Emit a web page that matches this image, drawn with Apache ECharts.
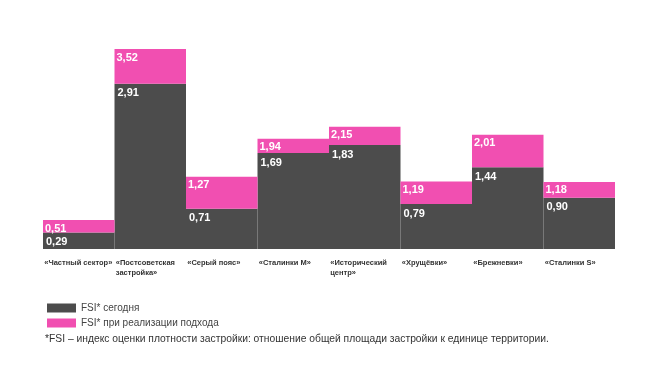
<!DOCTYPE html>
<html><head><meta charset="utf-8">
<script src="https://cdn.jsdelivr.net/npm/echarts@6/dist/echarts.min.js"></script>
<style>html,body{margin:0;padding:0;background:#fff}#c{width:650px;height:371px}</style>
</head><body><div id="c"></div>
<script>
const categories = ['«Частный сектор»', '«Постсоветская\nзастройка»', '«Серый пояс»', '«Сталинки М»', '«Исторический\nцентр»', '«Хрущёвки»', '«Брежневки»', '«Сталинки S»'];
const fsiToday = [0.29, 2.91, 0.71, 1.69, 1.83, 0.79, 1.44, 0.90];
const fsiFuture = [0.51, 3.52, 1.27, 1.94, 2.15, 1.19, 2.01, 1.18];
const seriesNames = ['FSI* сегодня', 'FSI* при реализации подхода'];
const footnote = '*FSI – индекс оценки плотности застройки: отношение общей площади застройки к единице территории.';

const fmt = v => v.toFixed(2).replace('.', ',');
const increment = fsiFuture.map((v, i) => +(v - fsiToday[i]).toFixed(2));
const FONT = 'Liberation Sans, Arial, sans-serif';
const chart = echarts.init(document.getElementById('c'), null, {renderer: 'canvas'});
chart.setOption({
  animation: false,
  textStyle: {fontFamily: FONT},
  grid: {left: 43, right: 35, top: 49, bottom: 122},
  xAxis: {
    type: 'category', data: categories,
    axisLine: {show: false}, axisTick: {show: false},
    axisLabel: {
      interval: 0, margin: 9,
      formatter: v => v.split('\n').map(s => '{a|' + s + '}').join('\n'),
      rich: {a: {width: 71, align: 'left', padding: [0, 0, 0, 2], fontSize: 7.5, fontWeight: 'bold', color: '#333', fontFamily: FONT, lineHeight: 10}}
    }
  },
  yAxis: {type: 'value', min: 0, max: 3.52, show: false, splitLine: {show: false}},
  legend: {
    orient: 'vertical', left: 47, top: 303, padding: 0, itemWidth: 29, itemHeight: 9, itemGap: 5,
    icon: 'rect', data: seriesNames,
    textStyle: {fontSize: 10, color: '#444', fontFamily: FONT}
  },
  title: {
    text: footnote, left: 40, top: 329,
    textStyle: {fontSize: 10.3, fontWeight: 'normal', color: '#333', fontFamily: FONT}
  },
  series: [
    {
      name: seriesNames[0], type: 'bar', stack: 's', data: fsiToday,
      barCategoryGap: 0, itemStyle: {color: '#4c4c4c'},
      label: {show: true, position: 'insideTopLeft', distance: 3, offset: [0, 1], formatter: p => fmt(p.value),
        color: '#fff', fontWeight: 'bold', fontSize: 11, fontFamily: FONT}
    },
    {
      name: seriesNames[1], type: 'bar', stack: 's', data: increment,
      barCategoryGap: 0, itemStyle: {color: '#f14fb1'},
      label: {show: true, position: 'insideTopLeft', distance: 2, offset: [0, 1], formatter: p => fmt(fsiFuture[p.dataIndex]),
        color: '#fff', fontWeight: 'bold', fontSize: 11, fontFamily: FONT}
    }
  ]
});
</script></body></html>
